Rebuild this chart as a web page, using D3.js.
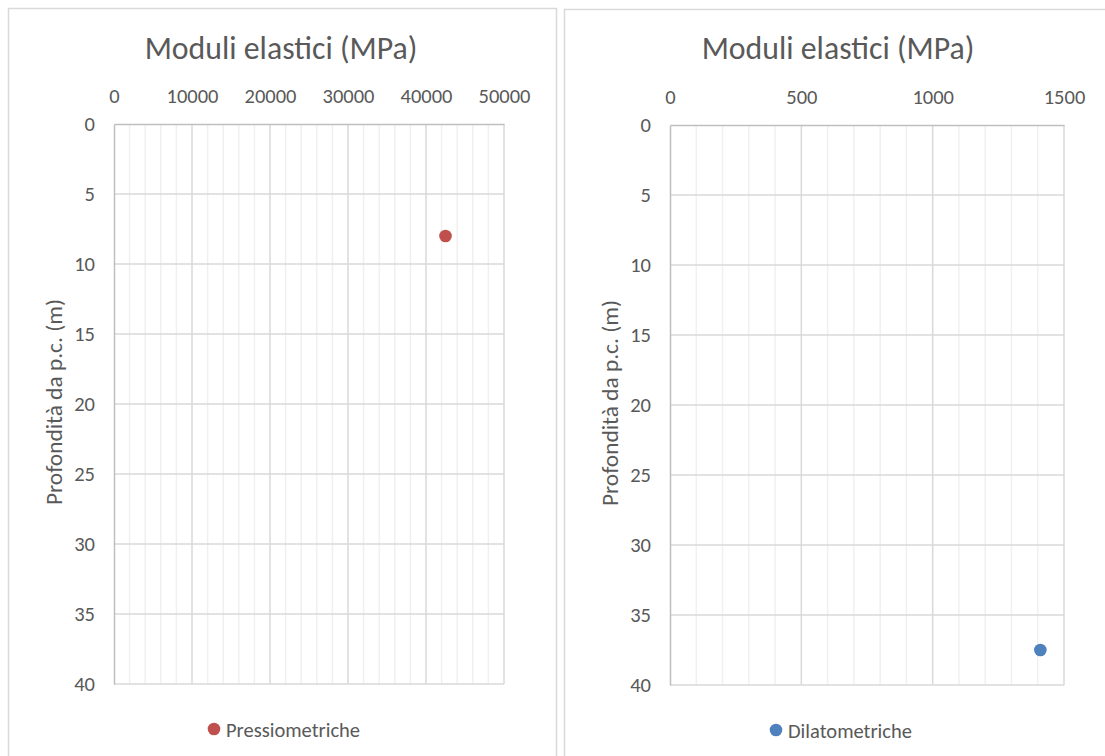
<!DOCTYPE html>
<html>
<head>
<meta charset="utf-8">
<script src="https://cdn.jsdelivr.net/npm/d3@7"></script>
<style>
  html, body { margin: 0; padding: 0; background: #ffffff; }
  svg { display: block; }
  text { font-family: Calibri, Carlito, "Liberation Sans", Arial, sans-serif; fill: #595959; }
</style>
</head>
<body>
<svg id="chart" width="1105" height="756"></svg>
<script>
// Elastic moduli versus depth below ground level (p.c.)
const chartTitle = "Moduli elastici (MPa)";
const depthLabel = "Profondità da p.c. (m)";

// Pressuremeter tests
const pressSeries = "Pressiometriche";
const pressModulus = [42500];
const pressDepth = [8];
const pressXTicks = [0, 10000, 20000, 30000, 40000, 50000];

// Dilatometer tests
const dilSeries = "Dilatometriche";
const dilModulus = [1410];
const dilDepth = [37.5];
const dilXTicks = [0, 500, 1000, 1500];

const depthTicks = [0, 5, 10, 15, 20, 25, 30, 35, 40];

const FONT = "Calibri, Carlito, 'Liberation Sans', Arial, sans-serif";
const svg = d3.select("#chart");

function panel(cfg) {
  const g = svg.append("g");

  // chart frame
  g.append("rect")
    .attr("x", cfg.frame[0] + 0.5).attr("y", cfg.frame[1] + 0.5)
    .attr("width", cfg.frame[2]).attr("height", cfg.frame[3])
    .attr("fill", "#fff").attr("stroke", "#d9d9d9").attr("stroke-width", 1.5);

  const x = d3.scaleLinear().domain(cfg.xDomain).range([cfg.left, cfg.right]);
  const y = d3.scaleLinear().domain([0, 40]).range([cfg.top, cfg.bottom]);

  // minor vertical gridlines
  const minor = d3.range(cfg.xDomain[0], cfg.xDomain[1] + 1e-9, cfg.minorStep)
    .filter(v => !cfg.xTicks.includes(v));
  g.append("g").selectAll("line").data(minor).join("line")
    .attr("x1", d => x(d)).attr("x2", d => x(d))
    .attr("y1", cfg.top).attr("y2", cfg.bottom)
    .attr("stroke", "#f0f0f0").attr("stroke-width", 1.5);

  // major gridlines
  g.append("g").selectAll("line").data(cfg.xTicks.slice(1)).join("line")
    .attr("x1", d => x(d)).attr("x2", d => x(d))
    .attr("y1", cfg.top).attr("y2", cfg.bottom)
    .attr("stroke", "#d9d9d9").attr("stroke-width", 1.5);
  g.append("g").selectAll("line").data(depthTicks.slice(1)).join("line")
    .attr("x1", cfg.left).attr("x2", cfg.right)
    .attr("y1", d => y(d)).attr("y2", d => y(d))
    .attr("stroke", "#d9d9d9").attr("stroke-width", 1.5);

  // axis lines (top and left)
  const xAxis = g.append("g").attr("transform", `translate(0,${cfg.top})`)
    .call(d3.axisTop(x).tickValues(cfg.xTicks).tickSize(0).tickPadding(21).tickFormat(d3.format("d")));
  const yAxis = g.append("g").attr("transform", `translate(${cfg.left},0)`)
    .call(d3.axisLeft(y).tickValues(depthTicks).tickSize(0).tickPadding(19).tickFormat(d3.format("d")));
  [xAxis, yAxis].forEach(a => {
    a.select(".domain").attr("stroke", "#bfbfbf").attr("stroke-width", 1.5);
    a.selectAll("text").attr("font-size", "20.5px").style("fill", "#595959")
      .attr("font-family", FONT);
  });

  // titles
  g.append("text")
    .attr("x", cfg.titleX).attr("y", 59)
    .attr("text-anchor", "middle").attr("font-size", "31.8px")
    .text(chartTitle);
  g.append("text")
    .attr("transform", `translate(${cfg.yTitleX},${(cfg.top + cfg.bottom) / 2 - 2}) rotate(-90)`)
    .attr("text-anchor", "middle").attr("dominant-baseline", "central")
    .attr("font-size", "23.4px")
    .text(depthLabel);

  // points
  g.append("g").selectAll("circle").data(cfg.xs.map((v, i) => [v, cfg.ys[i]])).join("circle")
    .attr("cx", d => x(d[0])).attr("cy", d => y(d[1]))
    .attr("r", 6.3).attr("fill", cfg.color);

  // legend
  const lg = g.append("g").attr("transform", `translate(${cfg.legendX},${cfg.legendY})`);
  lg.append("circle").attr("cx", 0).attr("cy", 0).attr("r", 6.3).attr("fill", cfg.color);
  lg.append("text").attr("x", 12).attr("y", 1)
    .attr("dominant-baseline", "central").attr("font-size", "20.5px")
    .text(cfg.series);
}

panel({
  frame: [8, 8, 548, 780],
  xDomain: [0, 50000], xTicks: pressXTicks, minorStep: 2000,
  left: 114, right: 504, top: 124, bottom: 684,
  titleX: 281, yTitleX: 54,
  xs: pressModulus, ys: pressDepth, color: "#c0504d",
  series: pressSeries, legendX: 214, legendY: 729
});

panel({
  frame: [564, 9, 560, 780],
  xDomain: [0, 1500], xTicks: dilXTicks, minorStep: 100,
  left: 670, right: 1064, top: 125, bottom: 685,
  titleX: 838, yTitleX: 610,
  xs: dilModulus, ys: dilDepth, color: "#4f81bd",
  series: dilSeries, legendX: 776, legendY: 730
});
</script>
</body>
</html>
